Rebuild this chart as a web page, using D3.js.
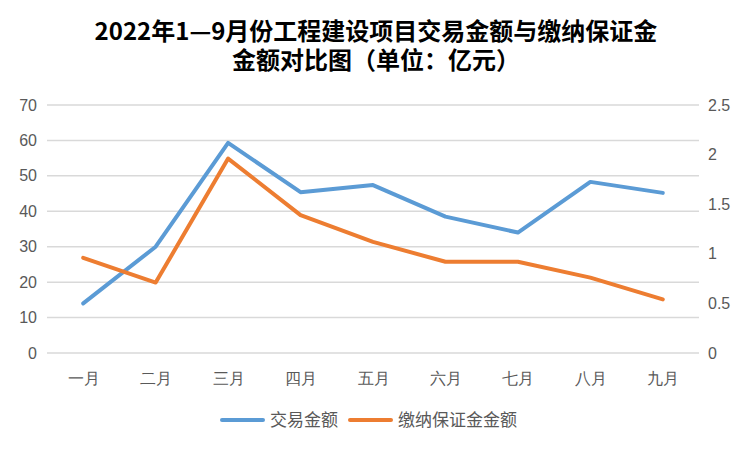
<!DOCTYPE html>
<html>
<head>
<meta charset="utf-8">
<script src="https://cdn.jsdelivr.net/npm/d3@7"></script>
<style>
  body { margin: 0; background: #fff; }
  svg { font-family: "Noto Sans CJK SC", "Noto Sans", sans-serif; }
</style>
</head>
<body>
<svg id="chart" width="752" height="452"></svg>
<script>
// data
var months = ["一月", "二月", "三月", "四月", "五月", "六月", "七月", "八月", "九月"];
var tradeAmount = [14, 30, 59.3, 45.4, 47.4, 38.5, 34, 48.3, 45.2];      // left axis
var depositAmount = [0.96, 0.71, 1.96, 1.39, 1.12, 0.92, 0.92, 0.76, 0.54]; // right axis
var leftTicks = [0, 10, 20, 30, 40, 50, 60, 70];
var rightTicks = [0, 0.5, 1, 1.5, 2, 2.5];
var seriesNames = ["交易金额", "缴纳保证金金额"];
var titleLines = ["2022年1—9月份工程建设项目交易金额与缴纳保证金", "金额对比图（单位：亿元）"];

var svg = d3.select("#chart");
// note: "top" is a reserved window global, so use plot* names
var plotL = 47, plotR = 699, plotT = 105, plotB = 353;

var x = d3.scalePoint().domain(months).range([plotL, plotR]).padding(0.5);
var yL = d3.scaleLinear().domain([0, 70]).range([plotB, plotT]);
var yR = d3.scaleLinear().domain([0, 2.5]).range([plotB, plotT]);

// title: one text, two lines
svg.append("text")
  .attr("text-anchor", "middle")
  .attr("font-size", 24).attr("font-weight", "bold").attr("fill", "#000")
  .selectAll("tspan").data(titleLines).enter().append("tspan")
  .attr("x", 376).attr("y", function (d, i) { return 40 + i * 29; })
  .text(function (d) { return d; });

// gridlines
svg.append("g").selectAll("line").data(leftTicks).enter().append("line")
  .attr("x1", plotL).attr("x2", plotR)
  .attr("y1", function (d) { return yL(d); }).attr("y2", function (d) { return yL(d); })
  .attr("stroke", "#d9d9d9").attr("stroke-width", 1.5);

// left axis
var axL = svg.append("g").attr("transform", "translate(" + (plotL - 10) + ",0)")
  .call(d3.axisLeft(yL).tickValues(leftTicks).tickSize(0).tickPadding(0));
axL.select(".domain").remove();
axL.selectAll("text").attr("font-size", 16).attr("fill", "#595959").attr("font-family", "Liberation Sans, sans-serif");

// right axis
var axR = svg.append("g").attr("transform", "translate(" + (plotR + 9) + ",0)")
  .call(d3.axisRight(yR).tickValues(rightTicks).tickSize(0).tickPadding(0).tickFormat(d3.format("")));
axR.select(".domain").remove();
axR.selectAll("text").attr("font-size", 16).attr("fill", "#595959").attr("font-family", "Liberation Sans, sans-serif");

// x axis
var axX = svg.append("g").attr("transform", "translate(0," + (plotB + 14) + ")")
  .call(d3.axisBottom(x).tickSize(0).tickPadding(6));
axX.select(".domain").remove();
axX.selectAll("text").attr("font-size", 16).attr("fill", "#595959");

// lines
var lineL = d3.line().x(function (d, i) { return x(months[i]); }).y(function (d) { return yL(d); });
var lineR = d3.line().x(function (d, i) { return x(months[i]); }).y(function (d) { return yR(d); });
var colors = ["#5b9bd5", "#ed7d31"];

svg.append("path").datum(tradeAmount).attr("d", lineL)
  .attr("fill", "none").attr("stroke", colors[0]).attr("stroke-width", 4)
  .attr("stroke-linejoin", "round").attr("stroke-linecap", "round");
svg.append("path").datum(depositAmount).attr("d", lineR)
  .attr("fill", "none").attr("stroke", colors[1]).attr("stroke-width", 4)
  .attr("stroke-linejoin", "round").attr("stroke-linecap", "round");

// legend
var legX = [222, 350];
var leg = svg.append("g").selectAll("g").data(seriesNames).enter().append("g")
  .attr("transform", function (d, i) { return "translate(" + legX[i] + ",420)"; });
leg.append("line").attr("x1", 0).attr("x2", 41).attr("y1", 0).attr("y2", 0)
  .attr("stroke", function (d, i) { return colors[i]; }).attr("stroke-width", 4)
  .attr("stroke-linecap", "round");
leg.append("text").attr("x", 48).attr("y", 6)
  .attr("font-size", 17).attr("fill", "#595959")
  .text(function (d) { return d; });
</script>
</body>
</html>
